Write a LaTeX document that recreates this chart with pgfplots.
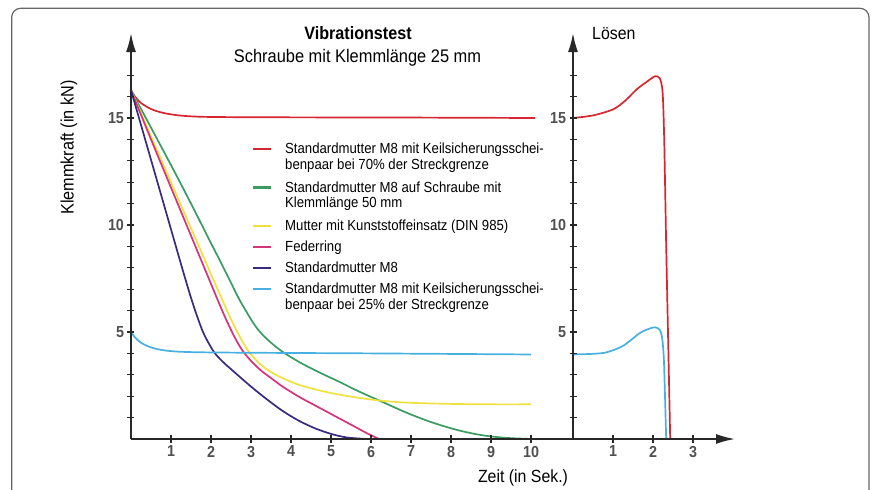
\documentclass[border=0pt]{standalone}
\usepackage{fontspec}
\setmainfont{Liberation Sans}[FakeStretch=0.9]
\usepackage{pgfplots}
\pgfplotsset{compat=1.18}
\usetikzlibrary{arrows.meta}

\definecolor{cRed}{RGB}{216,38,48}
\definecolor{cGreen}{RGB}{58,156,96}
\definecolor{cYellow}{RGB}{240,226,60}
\definecolor{cPink}{RGB}{214,52,122}
\definecolor{cPurple}{RGB}{58,42,128}
\definecolor{cBlue}{RGB}{72,176,224}
\definecolor{axisgray}{RGB}{40,40,40}
\definecolor{tickgray}{RGB}{80,80,80}

\pgfplotsset{
  panel/.style={
    axis lines*=left,
    x=40bp, y=21.4bp,
    ymin=0, ymax=18.97,
    axis line style={line width=1.8bp, draw=axisgray},
    tick style={line width=1.3bp, draw=axisgray},
    tick align=center,
    major tick length=7bp, minor tick length=7bp,
    ytick={5,10,15}, minor ytick={1,...,17},
    ticklabel style={font=\bfseries\fontsize{16}{16}\selectfont, text=tickgray},
    /pgf/number format/assume math mode=true,
    clip=false, axis on top,
    every axis plot/.append style={line width=1.7bp, smooth},
  },
}

\begin{document}
\begin{tikzpicture}
\useasboundingbox (-131bp,-51bp) rectangle (740bp,439bp);

% Rahmen
\draw[draw=black!60, line width=1.2bp, rounded corners=9bp]
  (-119.3bp,-80bp) -- (-119.3bp,430.7bp) -- (738bp,430.7bp) -- (738bp,-80bp);

% linkes Diagramm: Vibrationstest
\begin{axis}[panel,
  xmin=0, xmax=11.05,
  xtick={1,...,10},
  x axis line style={-},
  y axis line style={-{Latex[length=19bp,width=10bp]}},
]
% 70% Streckgrenze
\addplot[cRed] coordinates {
(0,16.3) (0.1,16.0) (0.25,15.7) (0.5,15.42) (0.8,15.24) (1.2,15.12)
(1.7,15.06) (2.5,15.04) (4,15.03) (7,15.02) (10.1,15.0)
};
% Klemmlaenge 50 mm
\addplot[cGreen] coordinates {
(0,16.3) (0.5,14.55) (1.0,12.8) (1.5,11.0) (2.0,9.15) (2.22,8.35) (2.5,7.3)
(2.7,6.55) (2.9,5.9) (3.1,5.3) (3.3,4.85) (3.55,4.42) (3.81,4.05)
(4.22,3.58) (4.72,3.1) (5.2,2.68) (5.7,2.22) (6.3,1.72) (6.9,1.22)
(7.55,0.76) (8.2,0.4) (8.8,0.17) (9.4,0.05) (10.05,0)
};
% Kunststoffeinsatz
\addplot[cYellow] coordinates {
(0,16.3) (0.5,14.15) (1.0,12.0) (1.5,9.85) (1.77,8.7) (2.0,7.7) (2.2,6.85)
(2.4,6.0) (2.55,5.4) (2.7,4.85) (2.85,4.35) (3.0,3.95) (3.2,3.55)
(3.4,3.25) (3.65,2.97) (3.89,2.76) (4.2,2.53) (4.6,2.32) (5.05,2.13)
(5.6,1.95) (6.3,1.78) (7.0,1.69) (8.0,1.64) (9.0,1.62) (10.0,1.62)
};
% Federring
\addplot[cPink] coordinates {
(0,16.3) (0.5,14.0) (1.0,11.75) (1.5,9.5) (1.8,8.15) (2.0,7.25) (2.2,6.35)
(2.35,5.7) (2.5,5.1) (2.65,4.55) (2.8,4.1) (3.0,3.65) (3.25,3.2)
(3.5,2.85) (3.75,2.5) (4.0,2.2) (4.25,1.92) (4.5,1.67) (4.75,1.42)
(5.0,1.17) (5.3,0.87) (5.6,0.57) (5.9,0.27) (6.2,0)
};
% Standardmutter M8
\addplot[cPurple] coordinates {
(0,16.3) (0.5,13.05) (1.0,9.8) (1.3,7.85) (1.5,6.6) (1.65,5.75) (1.8,5.0)
(1.95,4.45) (2.1,4.0) (2.3,3.6) (2.6,3.1) (3.0,2.45) (3.4,1.85)
(3.8,1.3) (4.2,0.85) (4.6,0.5) (5.0,0.24) (5.4,0.07) (5.9,0)
};
% 25% Streckgrenze
\addplot[cBlue] coordinates {
(0,5.0) (0.1,4.75) (0.25,4.5) (0.5,4.28) (0.8,4.15) (1.2,4.08) (1.8,4.05)
(3,4.03) (6,4.0) (10,3.95)
};
\end{axis}

% rechtes Diagramm: Loesen
\begin{axis}[panel,
  at={(442bp,0bp)}, anchor=south west,
  xmin=0, xmax=4.05,
  xtick={1,2,3},
  x axis line style={-{Latex[length=19bp,width=10bp]}},
  y axis line style={-{Latex[length=19bp,width=10bp]}},
]
\addplot[cRed, tension=0.45] coordinates {
(0,15.0) (0.5,15.12) (1.0,15.4) (1.3,15.8) (1.6,16.35) (1.85,16.7)
(2.05,16.95) (2.17,16.85) (2.24,16.2) (2.28,14) (2.33,9) (2.38,4.5)
(2.43,0)
};
\addplot[cBlue, tension=0.45] coordinates {
(0,3.95) (0.5,3.98) (0.84,4.05) (1.25,4.35) (1.67,4.95) (1.9,5.15)
(2.05,5.22) (2.17,5.1) (2.23,4.7) (2.27,3.8) (2.3,2) (2.33,0)
};
\end{axis}

% Titel und Achsenbeschriftungen
\node[anchor=base, inner sep=0pt, font=\bfseries\fontsize{18}{18}\selectfont]
  at (227bp,399bp) {Vibrationstest};
\node[anchor=base, inner sep=0pt, font=\fontsize{18.3}{18}\selectfont]
  at (226.5bp,376bp) {Schraube mit Klemmlänge 25 mm};
\node[anchor=base west, inner sep=0pt, font=\fontsize{17.7}{18}\selectfont]
  at (461bp,399bp) {Lösen};
\node[rotate=90, inner sep=0pt, font=\fontsize{18.1}{18}\selectfont]
  at (-62bp,291.5bp) {Klemmkraft (in kN)};
\node[anchor=base, inner sep=0pt, font=\fontsize{17.7}{18}\selectfont]
  at (392bp,-43bp) {Zeit (in Sek.)};

% Legende
\begin{scope}[every node/.style={anchor=base west, inner sep=0pt,
    font=\fontsize{14.7}{15}\selectfont}]
\draw[cRed, line width=2.5bp] (122bp,290bp) -- (140bp,290bp);
\node at (154bp,285bp) {Standardmutter M8 mit Keilsicherungsschei-};
\node at (154bp,269.5bp) {benpaar bei 70\% der Streckgrenze};
\draw[cGreen, line width=2.5bp] (122bp,251.7bp) -- (140bp,251.7bp);
\node at (154bp,246.7bp) {Standardmutter M8 auf Schraube mit};
\node at (154bp,231.2bp) {Klemmlänge 50 mm};
\draw[cYellow, line width=2.5bp] (122bp,213bp) -- (140bp,213bp);
\node at (154bp,208bp) {Mutter mit Kunststoffeinsatz (DIN 985)};
\draw[cPink, line width=2.5bp] (122bp,192bp) -- (140bp,192bp);
\node at (154bp,187bp) {Federring};
\draw[cPurple, line width=2.5bp] (122bp,171bp) -- (140bp,171bp);
\node at (154bp,166bp) {Standardmutter M8};
\draw[cBlue, line width=2.5bp] (122bp,150bp) -- (140bp,150bp);
\node at (154bp,145bp) {Standardmutter M8 mit Keilsicherungsschei-};
\node at (154bp,129.5bp) {benpaar bei 25\% der Streckgrenze};
\end{scope}
\end{tikzpicture}
\end{document}
